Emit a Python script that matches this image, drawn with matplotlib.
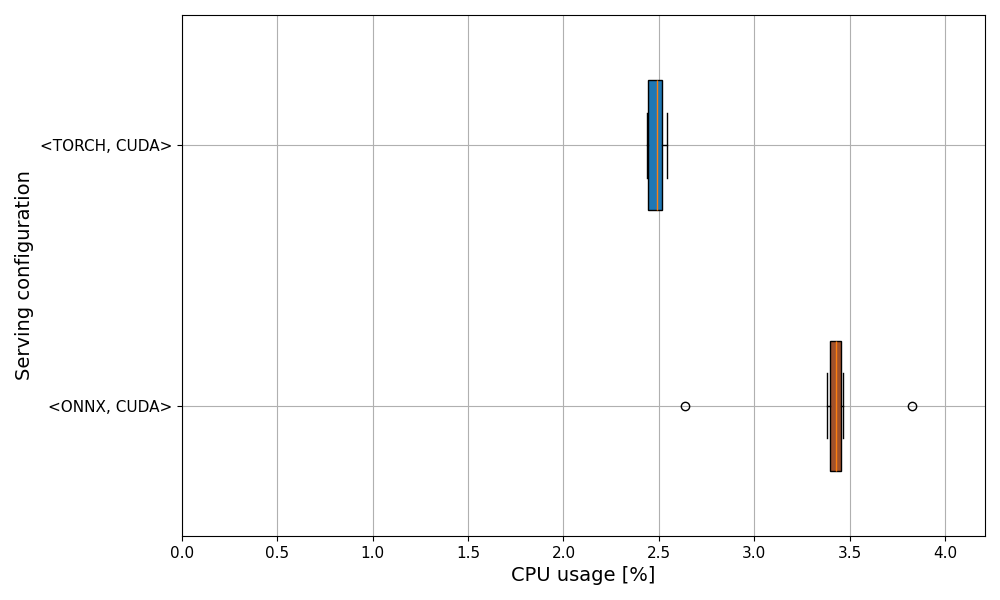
import matplotlib
matplotlib.use("Agg")
import matplotlib.pyplot as plt

# Configurations (bottom to top)
configs = ["<ONNX, CUDA>", "<TORCH, CUDA>"]
q1 = [3.397, 2.443]
med = [3.429, 2.492]
q3 = [3.455, 2.516]
whislo = [3.381, 2.438]
whishi = [3.465, 2.543]
fliers = [[2.637, 3.827], []]
box_colors = ["#a0522d", "#1f77b4"]

stats = []
for i, name in enumerate(configs):
    stats.append({
        "label": name, "q1": q1[i], "med": med[i], "q3": q3[i],
        "whislo": whislo[i], "whishi": whishi[i], "fliers": fliers[i],
    })

fig, ax = plt.subplots(figsize=(10, 6), dpi=100)
bp = ax.bxp(stats, vert=False, patch_artist=True, widths=0.5,
            medianprops=dict(color="#ff7f0e", linewidth=1))
for patch, c in zip(bp["boxes"], box_colors):
    patch.set_facecolor(c)
    patch.set_edgecolor("black")

ax.set_xlim(0, 4.21)
ax.set_ylim(0.5, 2.5)
ax.grid(True)
ax.set_axisbelow(True)
ax.set_xlabel("CPU usage [%]", fontsize=14)
ax.set_ylabel("Serving configuration", fontsize=14)
ax.tick_params(labelsize=11)

plt.subplots_adjust(left=0.182, right=0.985, top=0.975, bottom=0.107)
plt.savefig("out.png", dpi=100)
